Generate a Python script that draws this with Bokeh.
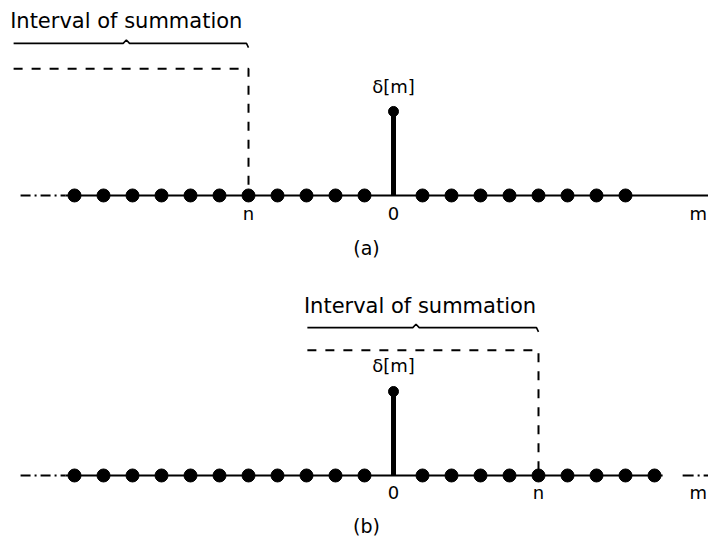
from bokeh.plotting import figure
from bokeh.layouts import column
from bokeh.models import Range1d
from bokeh.core.properties import value
from bokeh.embed import file_html
from bokeh.resources import INLINE

# ---------------- data ----------------
# panel (a): samples m = -11..8, delta[m]
m_a = list(range(-11, 9))
d_a = [1 if m == 0 else 0 for m in m_a]
n_a = -5
# panel (b): samples m = -11..9
m_b = list(range(-11, 10))
d_b = [1 if m == 0 else 0 for m in m_b]
n_b = 5

interval_text = "Interval of summation"
delta_label = "δ[m]"
axis_labels = ["n", "0", "m"]
panel_labels = ["(a)", "(b)"]

# summation interval start (left end) for each panel, in m units
interval_start_a = -13.1
interval_start_b = -2.97

FONT = value("DejaVu Sans")
X_RANGE = (-13.552, 10.862)


def panel(m, d, n, start, height, y_lo, y_hi, lv, label, right_dashed):
    p = figure(width=708, height=height, output_backend="svg", toolbar_location=None,
               x_range=Range1d(*X_RANGE), y_range=Range1d(y_lo, y_hi),
               x_axis_location=None, y_axis_location=None, min_border=0,
               outline_line_color=None, background_fill_color="white",
               border_fill_color="white")
    p.xgrid.visible = False
    p.ygrid.visible = False

    # horizontal axis line
    p.line([-12.86, -11.31], [0, 0], line_color="black", line_width=2, line_dash="10 4 2 4")
    if right_dashed:
        p.line([-11.31, 9.28], [0, 0], line_color="black", line_width=2)
        p.line([9.97, X_RANGE[1]], [0, 0], line_color="black", line_width=2, line_dash="11 4 2 4")
    else:
        p.line([-11.31, X_RANGE[1]], [0, 0], line_color="black", line_width=2)

    # samples
    zm = [mm for mm, v in zip(m, d) if v == 0]
    zv = [v for v in d if v == 0]
    nm = [mm for mm, v in zip(m, d) if v != 0]
    nv = [v for v in d if v != 0]
    p.scatter(zm, zv, size=13, marker="circle", color="black")
    p.segment(x0=nm, y0=[0] * len(nm), x1=nm, y1=nv, line_color="black", line_width=5)
    p.scatter(nm, nv, size=10, marker="circle", color="black")

    # dashed summation window
    p.line([start, n, n], [lv["dash"], lv["dash"], 0], line_color="black",
           line_width=2, line_dash="9 9")

    # brace
    mid = start + (n - start) * lv["peak_frac"]
    p.line([start, mid - 0.11, mid, mid + 0.11, n - 0.07, n],
           [lv["brace"], lv["brace"], lv["brace"] + 0.04, lv["brace"], lv["brace"], lv["brace"] - 0.05],
           line_color="black", line_width=1.6)

    p.text(x=[start - 0.12], y=[lv["text"]], text=[interval_text], text_font=FONT,
           text_font_size="21px", text_baseline="middle", text_align="left", text_color="black")
    p.text(x=[0], y=[lv["delta"]], text=[delta_label], text_font=FONT,
           text_font_size="18px", text_baseline="middle", text_align="center", text_color="black")
    p.text(x=[n, 0], y=[lv["tick"]] * 2, text=[axis_labels[0], axis_labels[1]], text_font=FONT,
           text_font_size="18px", text_baseline="middle", text_align="center", text_color="black")
    p.text(x=[X_RANGE[1] - 0.05], y=[lv["tick"]], text=[axis_labels[2]], text_font=FONT,
           text_font_size="18px", text_baseline="middle", text_align="right", text_color="black")
    p.text(x=[-0.93], y=[lv["cap"]], text=[label], text_font=FONT,
           text_font_size="19px", text_baseline="middle", text_align="center", text_color="black")
    return p


lv_a = dict(text=2.08, brace=1.81, dash=1.51, delta=1.30, tick=-0.21, cap=-0.63, peak_frac=0.48)
lv_b = dict(text=2.02, brace=1.76, dash=1.49, delta=1.31, tick=-0.20, cap=-0.60, peak_frac=0.47)

pa = panel(m_a, d_a, n_a, interval_start_a, 262, -0.798, 2.321, lv_a, panel_labels[0], False)
pb = panel(m_b, d_b, n_b, interval_start_b, 280, -0.798, 2.536, lv_b, panel_labels[1], True)

layout = column(pa, pb, spacing=0)
open("out.html", "w").write(file_html(layout, INLINE))
